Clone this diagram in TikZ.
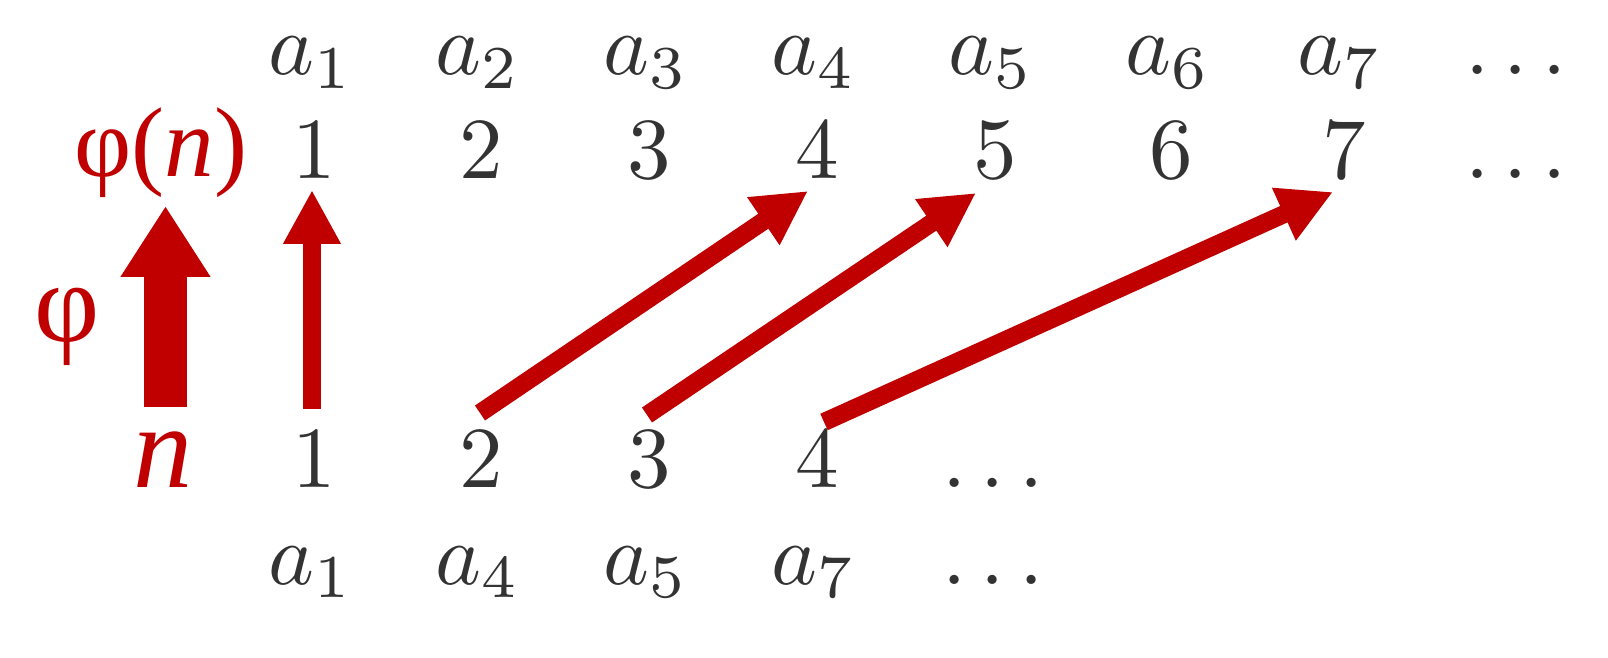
\documentclass[tikz,border=0pt]{standalone}
\usepackage{fontspec}
\newfontfamily\lib{Liberation Serif}
\usetikzlibrary{arrows.meta,calc}
\definecolor{txt}{HTML}{333333}
\definecolor{myred}{HTML}{C00000}
\begin{document}
\begin{tikzpicture}[x=0.114943pt,y=-0.114943pt,
  lbl/.style={anchor=base,inner sep=0pt,outer sep=0pt,text=txt},
  rlbl/.style={anchor=base,inner sep=0pt,outer sep=0pt,text=myred},
  thinarrow/.style={draw=myred,line width=2.07pt,-{Triangle[length=6.2pt,width=6.2pt]}},
  bigarrow/.style={draw=myred,line width=4.94pt,-{Triangle[length=8.16pt,width=9.77pt]}}]
\useasboundingbox (0,0) rectangle (1608,658);
% top a row
\node[lbl] (ta1) at (311,75) {$a_1$};
\node[lbl] (ta2) at (478,75) {$a_2$};
\node[lbl] (ta3) at (646,75) {$a_3$};
\node[lbl] (ta4) at (814,75) {$a_4$};
\node[lbl] (ta5) at (991,75) {$a_5$};
\node[lbl] (ta6) at (1168,75) {$a_6$};
\node[lbl] (ta7) at (1340,75) {$a_7$};
\node[lbl] (tad) at (1516,75) {$\ldots$};
% top digit row
\node[rlbl] (phin) at (161,177) {\lib\fontsize{11.4pt}{13pt}\selectfont φ(\textit{n})};
\node[lbl] (t1) at (314,179) {$1$};
\node[lbl] (t2) at (481,179) {$2$};
\node[lbl] (t3) at (649,179) {$3$};
\node[lbl] (t4) at (817,179) {$4$};
\node[lbl] (t5) at (995,179) {$5$};
\node[lbl] (t6) at (1171,179) {$6$};
\node[lbl] (t7) at (1344,179) {$7$};
\node[lbl] (td) at (1516,179) {$\ldots$};
% phi label
\node[rlbl] (phi) at (67,342) {\lib\fontsize{13pt}{15pt}\selectfont φ};
% bottom digit row
\node[rlbl] (nb) at (163,488) {\lib\itshape\fontsize{13.6pt}{15pt}\selectfont n};
\node[lbl] (b1) at (314,488) {$1$};
\node[lbl] (b2) at (481,488) {$2$};
\node[lbl] (b3) at (649,488) {$3$};
\node[lbl] (b4) at (817,488) {$4$};
\node[lbl] (bd) at (993,488) {$\ldots$};
% bottom a row
\node[lbl] (ba1) at (311,584) {$a_1$};
\node[lbl] (ba4) at (478,584) {$a_4$};
\node[lbl] (ba5) at (646,584) {$a_5$};
\node[lbl] (ba7) at (814,584) {$a_7$};
\node[lbl] (bad) at (993,584) {$\ldots$};
% arrows
\draw[bigarrow] ($(nb.base)+(2.5,-81)$) -- ($(phin.base)+(4.5,29)$);
\draw[thinarrow] ($(b1.base)+(-2,-79)$) -- ($(t1.base)+(-2,11)$);
\draw[thinarrow] ($(b2.base)+(-1,-75)$) -- ($(t4.base)+(-9,12)$);
\draw[thinarrow] ($(b3.base)+(-2,-73)$) -- ($(t5.base)+(-19,14)$);
\draw[thinarrow] ($(b4.base)+(7,-66)$) -- ($(t7.base)+(-11,13)$);
\end{tikzpicture}
\end{document}
